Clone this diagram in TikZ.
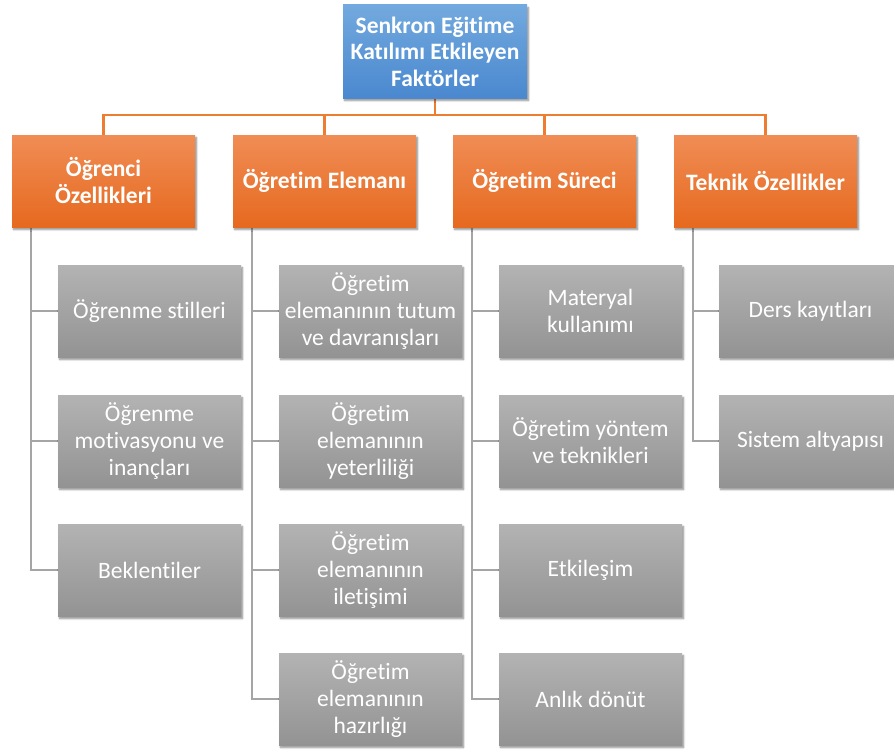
\documentclass[tikz,border=0pt]{standalone}
\usepackage{fontspec}
\setmainfont{Carlito}[Ligatures=NoCommon]
\usetikzlibrary{shadows.blur,backgrounds}
\definecolor{rootTop}{HTML}{72A9DE}
\definecolor{rootBot}{HTML}{4A88CF}
\definecolor{catTop}{HTML}{F08D55}
\definecolor{catBot}{HTML}{E6691F}
\definecolor{itemTop}{HTML}{B3B3B3}
\definecolor{itemBot}{HTML}{939393}
\definecolor{oline}{HTML}{ED7D31}
\definecolor{gline}{HTML}{A5A5A5}
\tikzset{
  box/.style={minimum width=183pt, minimum height=92pt, inner sep=2pt, align=center, text=white,
    font=\fontsize{23.5}{27}\selectfont,
    blur shadow={shadow xshift=1.5pt, shadow yshift=-2.5pt, shadow blur steps=5, shadow opacity=45}},
  rootbox/.style={box, minimum width=184pt, minimum height=93pt, top color=rootTop, bottom color=rootBot, font=\fontsize{23.5}{26.5}\selectfont\bfseries},
  catbox/.style={box, top color=catTop, bottom color=catBot, font=\fontsize{23.5}{27}\selectfont\bfseries},
  itembox/.style={box, top color=itemTop, bottom color=itemBot},
  oconn/.style={draw=oline, line width=2.6pt},
  gconn/.style={draw=gline, line width=2.6pt},
}
\begin{document}
\begin{tikzpicture}[x=1pt,y=-1pt]
\useasboundingbox (0,0) rectangle (894,752);
\node[rootbox] (root) at (435,51.5) {Senkron Eğitime\\Katılımı Etkileyen\\Faktörler};
\node[catbox] (o1) at (103.5,181) {Öğrenci\\Özellikleri};
\node[catbox] (o2) at (324.5,181) {Öğretim Elemanı};
\node[catbox] (o3) at (544.5,181) {Öğretim Süreci};
\node[catbox] (o4) at (765.5,181) {Teknik Özellikler};
% column 1
\node[itembox] (a1) at (149.5,311) {Öğrenme stilleri};
\node[itembox] (a2) at (149.5,441) {Öğrenme\\motivasyonu ve\\inançları};
\node[itembox] (a3) at (149.5,570) {Beklentiler};
% column 2
\node[itembox] (b1) at (370.5,311) {Öğretim\\elemanının tutum\\ve davranışları};
\node[itembox] (b2) at (370.5,441) {Öğretim\\elemanının\\yeterliliği};
\node[itembox] (b3) at (370.5,570) {Öğretim\\elemanının\\iletişimi};
\node[itembox] (b4) at (370.5,699) {Öğretim\\elemanının\\hazırlığı};
% column 3
\node[itembox] (c1) at (590.5,311) {Materyal\\kullanımı};
\node[itembox] (c2) at (590.5,441) {Öğretim yöntem\\ve teknikleri};
\node[itembox] (c3) at (590.5,570) {Etkileşim};
\node[itembox] (c4) at (590.5,699) {Anlık dönüt};
% column 4
\node[itembox] (d1) at (810.5,311) {Ders kayıtları};
\node[itembox] (d2) at (810.5,441) {Sistem altyapısı};
\coordinate (bar) at (0,115);
\begin{scope}[on background layer]
\draw[oconn] (root.south) -- (root.south |- bar);
\draw[oconn] (o1.north) -- (o1.north |- bar) -- (o4.north |- bar) -- (o4.north);
\draw[oconn] (o2.north) -- (o2.north |- bar);
\draw[oconn] (o3.north) -- (o3.north |- bar);
\draw[gconn] ([xshift=19pt]o1.south west) |- (a3.west);
\draw[gconn] ([xshift=19pt]o1.south west |- a1.west) -- (a1.west);
\draw[gconn] ([xshift=19pt]o1.south west |- a2.west) -- (a2.west);
\draw[gconn] ([xshift=19pt]o2.south west) |- (b4.west);
\draw[gconn] ([xshift=19pt]o2.south west |- b1.west) -- (b1.west);
\draw[gconn] ([xshift=19pt]o2.south west |- b2.west) -- (b2.west);
\draw[gconn] ([xshift=19pt]o2.south west |- b3.west) -- (b3.west);
\draw[gconn] ([xshift=19pt]o3.south west) |- (c4.west);
\draw[gconn] ([xshift=19pt]o3.south west |- c1.west) -- (c1.west);
\draw[gconn] ([xshift=19pt]o3.south west |- c2.west) -- (c2.west);
\draw[gconn] ([xshift=19pt]o3.south west |- c3.west) -- (c3.west);
\draw[gconn] ([xshift=19pt]o4.south west) |- (d2.west);
\draw[gconn] ([xshift=19pt]o4.south west |- d1.west) -- (d1.west);
\end{scope}
\end{tikzpicture}
\end{document}
